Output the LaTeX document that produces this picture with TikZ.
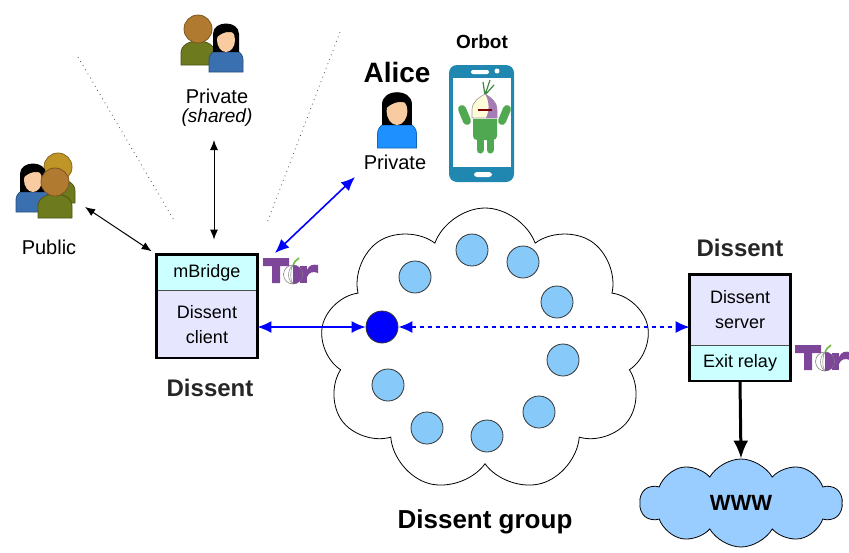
\documentclass[tikz,border=0pt]{standalone}
\usepackage{fontspec}
\setmainfont{Liberation Sans}
\usetikzlibrary{arrows.meta,positioning,shapes.symbols}
\definecolor{bridgecyan}{RGB}{204,255,255}
\definecolor{clientlav}{RGB}{230,230,255}
\definecolor{peerblue}{RGB}{135,202,250}
\definecolor{webblue}{RGB}{153,204,255}
\definecolor{torpurple}{RGB}{125,70,152}
\definecolor{phoneblue}{RGB}{32,136,176}
\definecolor{droidgreen}{RGB}{80,168,80}
\definecolor{olivebody}{RGB}{110,122,30}
\definecolor{brownhead}{RGB}{176,122,48}
\definecolor{shirtblue}{RGB}{58,111,176}
\definecolor{aliceshirt}{RGB}{30,144,255}
\definecolor{skin}{RGB}{248,204,160}

% man icon: body in #3, head in #2, #1 is the bottom centre
\newcommand{\drawman}[3]{%
  \begin{scope}[shift={#1}]
    \fill[#3,draw=#3!70!black] (-17,0) -- (-17,-12) .. controls (-17,-28) and (17,-28) .. (17,-12) -- (17,0) -- cycle;
    \fill[#2,draw=#2!70!black] (0,-36) circle[radius=14];
  \end{scope}}
% woman icon: shirt in #2
\newcommand{\drawwoman}[2]{%
  \begin{scope}[shift={#1}]
    \fill[#2,draw=#2!70!black] (-17,0) -- (-17,-12) .. controls (-17,-28) and (17,-28) .. (17,-12) -- (17,0) -- cycle;
    \fill[black] (-13,-20) -- (-13,-38) .. controls (-13,-52) and (13,-52) .. (13,-38) -- (13,-20) -- cycle;
    \fill[skin] (0,-32) ellipse[x radius=9, y radius=12];
    \fill[black] (-10,-38) .. controls (-8,-48) and (8,-48) .. (10,-38) .. controls (4,-42) and (-4,-40) .. (-10,-34) -- cycle;
  \end{scope}}
% Tor logo, #1 is the top left corner
\newcommand{\torlogo}[1]{%
  \begin{scope}[shift={#1}]
    \fill[torpurple] (0,0) rectangle (26,8) (9,0) rectangle (17,25);
    \fill[torpurple] (37,8) rectangle (44,25);
    \fill[torpurple] (44,12) .. controls (46,7) and (50,6) .. (55,7) -- (55,15) .. controls (50,13) and (46,14) .. (44,19) -- cycle;
    \draw[droidgreen!80!yellow,line width=0.8pt] (30,8) .. controls (31,4) and (33,2) .. (36,0);
    \fill[white,draw=black!50,line width=0.3pt] (30,16.5) circle[radius=9.5];
    \fill[torpurple] (30,7) arc[start angle=-90,end angle=90,radius=9.5] -- cycle;
    \draw[black!40,line width=0.3pt] (30,7) .. controls (24,12) and (24,22) .. (30,26) (30,7) .. controls (27,12) and (27,22) .. (30,26);
  \end{scope}}

\begin{document}
\begin{tikzpicture}[x=0.5pt,y=-0.5pt,
  box/.style={rectangle,draw=black!70,minimum width=50pt,align=center,
    font=\fontsize{9}{12.5}\selectfont,inner sep=0pt},
  peer/.style={circle,draw=black!80,fill=peerblue,minimum size=16pt,inner sep=0pt},
  label/.style={font=\fontsize{10}{12}\selectfont},
  title/.style={font=\bfseries\fontsize{12}{14}\selectfont,text=black!85},
  link/.style={{Latex[length=5pt,width=4pt]}-{Latex[length=5pt,width=4pt]},line width=0.5pt},
  bluelink/.style={{Latex[length=7pt,width=6pt]}-{Latex[length=7pt,width=6pt]},blue,line width=0.8pt},
  sight/.style={black!70,dotted,line width=0.4pt}
]
\useasboundingbox (0,0) rectangle (849,552);

% the group cloud and its members
\node[cloud,cloud puffs=9,cloud puff arc=140,aspect=1.17,draw,fill=white,
  minimum width=165pt,minimum height=142pt] (group) at (485,350) {};
\foreach \x/\y [count=\i] in {415/277,472/250,523/262,557/302,563/360,539/412,487/436,427/428,388/385}
  \node[peer] (p\i) at (\x,\y) {};
\node[peer,fill=blue] (me) at (382,327) {};
\node[font=\bfseries\fontsize{13}{15}\selectfont] (grouplabel) at (485,522) {Dissent group};

% client side
\node[box,fill=bridgecyan,minimum height=17.5pt] (mbridge) at (207,272.5) {mBridge};
\node[box,fill=clientlav,minimum height=33.5pt,below=0pt of mbridge] (client) {Dissent\\client};
\draw[line width=1.2pt] (mbridge.north west) rectangle (client.south east);
\node[title] (clientlabel) at (210,388) {Dissent};
\torlogo{(263,258)}

% server side
\node[box,fill=clientlav,minimum height=35pt] (server) at (740,310) {Dissent\\server};
\node[box,fill=bridgecyan,minimum height=17.5pt,below=0pt of server] (exitrelay) {Exit relay};
\draw[line width=1.2pt] (server.north west) rectangle (exitrelay.south east);
\node[title] (serverlabel) at (740,248) {Dissent};
\torlogo{(795,345)}

\node[cloud,cloud puffs=10,cloud puff arc=120,aspect=2.4,draw,fill=webblue,
  minimum width=101pt,minimum height=44pt] (www) at (741,503) {};
\node[font=\bfseries\fontsize{11}{13}\selectfont] at (www.center) {WWW};

% users
\drawman{(198,65)}{brownhead}{olivebody}
\drawwoman{(226,72)}{shirtblue}
\node[label] (shared) at (217,96) {Private};
\node[font=\itshape\fontsize{9.5}{11}\selectfont] (sharednote) at (217,118) {(shared)};

\drawman{(58,203)}{brownhead!80!yellow}{olivebody}
\drawwoman{(33,212)}{shirtblue}
\drawman{(55,218)}{brownhead}{olivebody}
\node[label] (public) at (49,247) {Public};

\node[font=\bfseries\fontsize{14}{16}\selectfont] (alice) at (397,72) {Alice};
\begin{scope}[shift={(397,148)},scale=1.15]
  \drawwoman{(0,0)}{aliceshirt}
\end{scope}
\node[label] (private) at (395,162) {Private};

% phone running Orbot
\node[font=\bfseries\fontsize{9.5}{11}\selectfont] (orbot) at (482,42) {Orbot};
\fill[phoneblue,rounded corners=4pt] (449,65) rectangle (514,182);
\fill[white] (453,78) rectangle (511,167);
\fill[white,rounded corners=1pt] (471,70) rectangle (489,74);
\fill[white] (497,71) circle[radius=2.5];
\fill[white,rounded corners=1.5pt] (474,172) rectangle (492,177);
\draw[droidgreen,line width=4pt,line cap=round] (462,109) -- (467,121) (507,109) -- (502,121);
\fill[droidgreen] (473,119) [rounded corners=2pt] -- (473,140) -- (497,140) [sharp corners] -- (497,119) -- cycle;
\draw[droidgreen,line width=3.5pt,line cap=round] (480,140) -- (480,150) (490,140) -- (490,150);
\draw[droidgreen!80!black,line width=0.6pt] (485,95) -- (490,80) (485,95) -- (483,82) (485,95) -- (494,85);
\fill[white!85!yellow,draw=black!40,line width=0.3pt] (472,118) -- (472,110) .. controls (472,101) and (480,97) .. (485,94) .. controls (490,97) and (497,101) .. (497,110) -- (497,118) -- cycle;
\fill[torpurple!70] (485,94) .. controls (490,97) and (497,101) .. (497,110) -- (497,118) -- (486,118) .. controls (490,110) and (489,100) .. (485,94);
\draw[red!50!black,line width=1pt] (478,110) -- (492,110);

% sight lines around the shared group
\coordinate (s1) at (78,57);
\coordinate (s2) at (175,222);
\coordinate (s3) at (340,32);
\coordinate (s4) at (267,223);
\draw[sight] (s1) -- (s2);
\draw[sight] (s3) -- (s4);

% connections
\coordinate (publicend) at (85,207);
\coordinate (sharedend) at (214,140);
\coordinate (aliceend) at (355,177);
\coordinate (torend) at (275,253);
\draw[link,shorten >=3pt] (publicend) -- (mbridge.north west);
\draw[link,shorten >=7.5pt] (sharedend) -- (sharedend |- mbridge.north);
\draw[bluelink] (torend) -- (aliceend);
\draw[bluelink] (client.east |- me) -- (me);
\draw[bluelink,dash pattern=on 2pt off 2pt] (me) -- (server.west |- me);
\draw[-{Latex[length=9pt,width=7.5pt]},line width=1.5pt] (exitrelay.south) -- (www.north);
\end{tikzpicture}
\end{document}
